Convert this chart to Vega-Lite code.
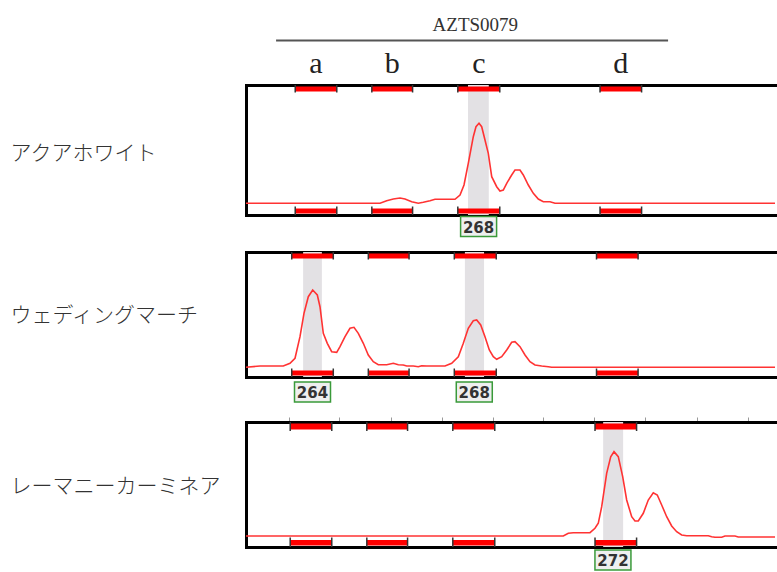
{
  "$schema": "https://vega.github.io/schema/vega-lite/v6.json",
  "background": "white",
  "padding": {"left": 10, "top": 15, "right": 0, "bottom": 0},
  "spacing": 11,
  "config": {
    "view": {"stroke": null},
    "axis": {"domainColor": "#000", "domainWidth": 3, "domainCap": "square", "grid": false, "ticks": false, "labels": false, "title": null}
  },
  "datasets": {
    "bins": [
      {"bin": "a", "lo": 263.49, "hi": 264.51, "mid": 264.0},
      {"bin": "b", "lo": 265.37, "hi": 266.37, "mid": 265.87},
      {"bin": "c", "lo": 267.48, "hi": 268.51, "mid": 268.0},
      {"bin": "d", "lo": 270.97, "hi": 271.99, "mid": 271.48}
    ],
    "calls": [
      {"sample": "アクアホワイト", "size": 268, "lo": 267.73, "hi": 268.24, "mid": 267.99},
      {"sample": "ウェディングマーチ", "size": 264, "lo": 263.77, "hi": 264.23, "mid": 264.0},
      {"sample": "ウェディングマーチ", "size": 268, "lo": 267.74, "hi": 268.21, "mid": 267.97},
      {"sample": "レーマニーカーミネア", "size": 272, "lo": 271.17, "hi": 271.66, "mid": 271.41}
    ],
    "header": [
      {"marker": "AZTS0079", "lo": 263.02, "hi": 272.64, "mid": 267.91}
    ],
    "trace": [
      {"sample": "アクアホワイト", "size": 262.282, "rfu": 117},
      {"sample": "アクアホワイト", "size": 265.571, "rfu": 117},
      {"sample": "アクアホワイト", "size": 265.735, "rfu": 143},
      {"sample": "アクアホワイト", "size": 265.897, "rfu": 160},
      {"sample": "アクアホワイト", "size": 266.061, "rfu": 170},
      {"sample": "アクアホワイト", "size": 266.184, "rfu": 160},
      {"sample": "アクアホワイト", "size": 266.348, "rfu": 133},
      {"sample": "アクアホワイト", "size": 266.510, "rfu": 117},
      {"sample": "アクアホワイト", "size": 266.633, "rfu": 127},
      {"sample": "アクアホワイト", "size": 266.798, "rfu": 143},
      {"sample": "アクアホワイト", "size": 266.920, "rfu": 157},
      {"sample": "アクアホワイト", "size": 267.411, "rfu": 157},
      {"sample": "アクアホワイト", "size": 267.534, "rfu": 200},
      {"sample": "アクアホワイト", "size": 267.632, "rfu": 300},
      {"sample": "アクアホワイト", "size": 267.737, "rfu": 517},
      {"sample": "アクアホワイト", "size": 267.860, "rfu": 783},
      {"sample": "アクアホワイト", "size": 267.926, "rfu": 883},
      {"sample": "アクアホワイト", "size": 268.000, "rfu": 917},
      {"sample": "アクアホワイト", "size": 268.066, "rfu": 883},
      {"sample": "アクアホワイト", "size": 268.147, "rfu": 750},
      {"sample": "アクアホワイト", "size": 268.228, "rfu": 617},
      {"sample": "アクアホワイト", "size": 268.312, "rfu": 383},
      {"sample": "アクアホワイト", "size": 268.434, "rfu": 283},
      {"sample": "アクアホワイト", "size": 268.515, "rfu": 240},
      {"sample": "アクアホワイト", "size": 268.596, "rfu": 250},
      {"sample": "アクアホワイト", "size": 268.680, "rfu": 317},
      {"sample": "アクアホワイト", "size": 268.802, "rfu": 400},
      {"sample": "アクアホワイト", "size": 268.883, "rfu": 450},
      {"sample": "アクアホワイト", "size": 269.006, "rfu": 450},
      {"sample": "アクアホワイト", "size": 269.087, "rfu": 400},
      {"sample": "アクアホワイト", "size": 269.210, "rfu": 300},
      {"sample": "アクアホワイト", "size": 269.333, "rfu": 217},
      {"sample": "アクアホワイト", "size": 269.455, "rfu": 160},
      {"sample": "アクアホワイト", "size": 269.578, "rfu": 133},
      {"sample": "アクアホワイト", "size": 269.742, "rfu": 133},
      {"sample": "アクアホワイト", "size": 269.865, "rfu": 117},
      {"sample": "アクアホワイト", "size": 275.264, "rfu": 117},
      {"sample": "ウェディングマーチ", "size": 262.368, "rfu": 97},
      {"sample": "ウェディングマーチ", "size": 262.712, "rfu": 110},
      {"sample": "ウェディングマーチ", "size": 263.283, "rfu": 110},
      {"sample": "ウェディングマーチ", "size": 263.448, "rfu": 137},
      {"sample": "ウェディングマーチ", "size": 263.571, "rfu": 187},
      {"sample": "ウェディングマーチ", "size": 263.693, "rfu": 403},
      {"sample": "ウェディングマーチ", "size": 263.791, "rfu": 637},
      {"sample": "ウェディングマーチ", "size": 263.897, "rfu": 803},
      {"sample": "ウェディングマーチ", "size": 264.005, "rfu": 870},
      {"sample": "ウェディングマーチ", "size": 264.118, "rfu": 820},
      {"sample": "ウェディングマーチ", "size": 264.184, "rfu": 703},
      {"sample": "ウェディングマーチ", "size": 264.265, "rfu": 437},
      {"sample": "ウェディングマーチ", "size": 264.363, "rfu": 337},
      {"sample": "ウェディングマーチ", "size": 264.471, "rfu": 253},
      {"sample": "ウェディングマーチ", "size": 264.594, "rfu": 247},
      {"sample": "ウェディングマーチ", "size": 264.675, "rfu": 303},
      {"sample": "ウェディングマーチ", "size": 264.798, "rfu": 403},
      {"sample": "ウェディングマーチ", "size": 264.920, "rfu": 487},
      {"sample": "ウェディングマーチ", "size": 265.018, "rfu": 497},
      {"sample": "ウェディングマーチ", "size": 265.124, "rfu": 437},
      {"sample": "ウェディングマーチ", "size": 265.247, "rfu": 337},
      {"sample": "ウェディングマーチ", "size": 265.369, "rfu": 220},
      {"sample": "ウェディングマーチ", "size": 265.492, "rfu": 153},
      {"sample": "ウェディングマーチ", "size": 265.615, "rfu": 123},
      {"sample": "ウェディングマーチ", "size": 265.821, "rfu": 123},
      {"sample": "ウェディングマーチ", "size": 265.983, "rfu": 137},
      {"sample": "ウェディングマーチ", "size": 266.106, "rfu": 123},
      {"sample": "ウェディングマーチ", "size": 266.228, "rfu": 120},
      {"sample": "ウェディングマーチ", "size": 266.312, "rfu": 110},
      {"sample": "ウェディングマーチ", "size": 266.474, "rfu": 110},
      {"sample": "ウェディングマーチ", "size": 266.596, "rfu": 103},
      {"sample": "ウェディングマーチ", "size": 266.680, "rfu": 113},
      {"sample": "ウェディングマーチ", "size": 266.802, "rfu": 110},
      {"sample": "ウェディングマーチ", "size": 267.252, "rfu": 110},
      {"sample": "ウェディングマーチ", "size": 267.416, "rfu": 137},
      {"sample": "ウェディングマーチ", "size": 267.578, "rfu": 203},
      {"sample": "ウェディングマーチ", "size": 267.701, "rfu": 337},
      {"sample": "ウェディングマーチ", "size": 267.823, "rfu": 487},
      {"sample": "ウェディングマーチ", "size": 267.946, "rfu": 563},
      {"sample": "ウェディングマーチ", "size": 268.029, "rfu": 570},
      {"sample": "ウェディングマーチ", "size": 268.128, "rfu": 520},
      {"sample": "ウェディングマーチ", "size": 268.233, "rfu": 403},
      {"sample": "ウェディングマーチ", "size": 268.339, "rfu": 270},
      {"sample": "ウェディングマーチ", "size": 268.437, "rfu": 203},
      {"sample": "ウェディングマーチ", "size": 268.520, "rfu": 177},
      {"sample": "ウェディングマーチ", "size": 268.643, "rfu": 203},
      {"sample": "ウェディングマーチ", "size": 268.766, "rfu": 270},
      {"sample": "ウェディングマーチ", "size": 268.888, "rfu": 347},
      {"sample": "ウェディングマーチ", "size": 268.969, "rfu": 353},
      {"sample": "ウェディングマーチ", "size": 269.092, "rfu": 303},
      {"sample": "ウェディングマーチ", "size": 269.215, "rfu": 220},
      {"sample": "ウェディングマーチ", "size": 269.337, "rfu": 153},
      {"sample": "ウェディングマーチ", "size": 269.460, "rfu": 120},
      {"sample": "ウェディングマーチ", "size": 269.624, "rfu": 110},
      {"sample": "ウェディングマーチ", "size": 269.787, "rfu": 103},
      {"sample": "ウェディングマーチ", "size": 269.870, "rfu": 97},
      {"sample": "ウェディングマーチ", "size": 275.350, "rfu": 97},
      {"sample": "レーマニーカーミネア", "size": 262.405, "rfu": 110},
      {"sample": "レーマニーカーミネア", "size": 270.192, "rfu": 110},
      {"sample": "レーマニーカーミネア", "size": 270.314, "rfu": 137},
      {"sample": "レーマニーカーミネア", "size": 270.437, "rfu": 143},
      {"sample": "レーマニーカーミネア", "size": 270.847, "rfu": 143},
      {"sample": "レーマニーカーミネア", "size": 270.969, "rfu": 187},
      {"sample": "レーマニーカーミネア", "size": 271.050, "rfu": 237},
      {"sample": "レーマニーカーミネア", "size": 271.134, "rfu": 403},
      {"sample": "レーマニーカーミネア", "size": 271.256, "rfu": 737},
      {"sample": "レーマニーカーミネア", "size": 271.355, "rfu": 903},
      {"sample": "レーマニーカーミネア", "size": 271.436, "rfu": 953},
      {"sample": "レーマニーカーミネア", "size": 271.541, "rfu": 903},
      {"sample": "レーマニーカーミネア", "size": 271.649, "rfu": 703},
      {"sample": "レーマニーカーミネア", "size": 271.747, "rfu": 470},
      {"sample": "レーマニーカーミネア", "size": 271.870, "rfu": 303},
      {"sample": "レーマニーカーミネア", "size": 271.951, "rfu": 260},
      {"sample": "レーマニーカーミネア", "size": 272.032, "rfu": 260},
      {"sample": "レーマニーカーミネア", "size": 272.155, "rfu": 337},
      {"sample": "レーマニーカーミネア", "size": 272.277, "rfu": 470},
      {"sample": "レーマニーカーミネア", "size": 272.400, "rfu": 543},
      {"sample": "レーマニーカーミネア", "size": 272.498, "rfu": 520},
      {"sample": "レーマニーカーミネア", "size": 272.606, "rfu": 420},
      {"sample": "レーマニーカーミネア", "size": 272.729, "rfu": 303},
      {"sample": "レーマニーカーミネア", "size": 272.851, "rfu": 210},
      {"sample": "レーマニーカーミネア", "size": 272.974, "rfu": 153},
      {"sample": "レーマニーカーミネア", "size": 273.097, "rfu": 120},
      {"sample": "レーマニーカーミネア", "size": 273.220, "rfu": 113},
      {"sample": "レーマニーカーミネア", "size": 273.750, "rfu": 113},
      {"sample": "レーマニーカーミネア", "size": 273.833, "rfu": 103},
      {"sample": "レーマニーカーミネア", "size": 273.914, "rfu": 97},
      {"sample": "レーマニーカーミネア", "size": 274.078, "rfu": 97},
      {"sample": "レーマニーカーミネア", "size": 274.160, "rfu": 110},
      {"sample": "レーマニーカーミネア", "size": 274.405, "rfu": 110},
      {"sample": "レーマニーカーミネア", "size": 274.486, "rfu": 100},
      {"sample": "レーマニーカーミネア", "size": 274.609, "rfu": 100},
      {"sample": "レーマニーカーミネア", "size": 275.387, "rfu": 100}
    ]
  },
  "vconcat": [
    {
      "width": 529, "height": 130,
      "layer": [
        {"data": {"name": "calls"}, "transform": [{"filter": {"field": "sample", "equal": "アクアホワイト"}}],
         "mark": {"type": "rect", "color": "#e3e1e4"},
         "encoding": {
           "x": {"field": "lo", "type": "quantitative", "scale": {"domain": [262.282, 275.264], "nice": false, "zero": false}, "axis": null},
           "x2": {"field": "hi"},
           "y": {"datum": 0, "type": "quantitative", "scale": {"domain": [0, 1300], "nice": false, "zero": false}, "axis": {"orient": "left", "title": "アクアホワイト", "titleAngle": 0, "titleAlign": "left", "titleBaseline": "middle", "titleX": -236, "titleY": 68, "titleFont": "Noto Sans CJK JP", "titleFontSize": 21, "titleFontWeight": 300, "titleColor": "#333"}},
           "y2": {"datum": 1300}}},
        {"data": {"name": "bins"},
         "mark": {"type": "rect", "color": "#ff0000"},
         "encoding": {
           "x": {"field": "lo", "type": "quantitative", "scale": {"domain": [262.282, 275.264], "nice": false, "zero": false}, "axis": {"orient": "top", "title": null}},
           "x2": {"field": "hi"},
           "y": {"datum": 1285, "type": "quantitative"},
           "y2": {"datum": 1235}}},
        {"data": {"name": "bins"},
         "mark": {"type": "rect", "color": "#ff0000"},
         "encoding": {
           "x": {"field": "lo", "type": "quantitative", "axis": null},
           "x2": {"field": "hi"},
           "y": {"datum": 15, "type": "quantitative"},
           "y2": {"datum": 65}}},
        {"data": {"name": "bins"}, "transform": [{"fold": ["lo", "hi"], "as": ["edge", "pos"]}],
         "mark": {"type": "rule", "color": "#333", "strokeWidth": 1.5},
         "encoding": {
           "x": {"field": "pos", "type": "quantitative", "axis": null},
           "y": {"datum": 1300, "type": "quantitative"},
           "y2": {"datum": 1225}}},
        {"data": {"name": "bins"}, "transform": [{"fold": ["lo", "hi"], "as": ["edge", "pos"]}],
         "mark": {"type": "rule", "color": "#333", "strokeWidth": 1.5},
         "encoding": {
           "x": {"field": "pos", "type": "quantitative", "axis": null},
           "y": {"datum": 0, "type": "quantitative"},
           "y2": {"datum": 85}}},
        {"data": {"name": "trace"}, "transform": [{"filter": {"field": "sample", "equal": "アクアホワイト"}}],
         "mark": {"type": "line", "color": "#ff3333", "strokeWidth": 1.6},
         "encoding": {
           "x": {"field": "size", "type": "quantitative", "axis": {"orient": "bottom", "title": null}},
           "y": {"field": "rfu", "type": "quantitative", "axis": {"orient": "left", "title": "アクアホワイト", "titleAngle": 0, "titleAlign": "left", "titleBaseline": "middle", "titleX": -236, "titleY": 68, "titleFont": "Noto Sans CJK JP", "titleFontSize": 21, "titleFontWeight": 300, "titleColor": "#333"}}}},
        {"data": {"name": "calls"}, "transform": [{"filter": {"field": "sample", "equal": "アクアホワイト"}}],
         "mark": {"type": "point", "shape": "M-1,-0.55H1V0.55H-1Z", "filled": true, "fill": "#efefef", "stroke": "#3a9a3a", "strokeWidth": 1.5, "size": 1296, "opacity": 1},
         "encoding": {
           "x": {"field": "mid", "type": "quantitative", "axis": null},
           "y": {"datum": -115, "type": "quantitative"}}},
        {"data": {"name": "calls"}, "transform": [{"filter": {"field": "sample", "equal": "アクアホワイト"}}],
         "mark": {"type": "text", "font": "DejaVu Sans", "fontWeight": "bold", "fontSize": 15, "color": "#333", "baseline": "middle", "align": "center", "dy": 1},
         "encoding": {
           "x": {"field": "mid", "type": "quantitative", "axis": null},
           "y": {"datum": -115, "type": "quantitative"},
           "text": {"field": "size"}}},
        {"data": {"name": "header"},
         "mark": {"type": "rule", "color": "#555", "strokeWidth": 1.8},
         "encoding": {
           "x": {"field": "lo", "type": "quantitative", "axis": null},
           "x2": {"field": "hi"},
           "y": {"datum": 1745, "type": "quantitative"}}},
        {"data": {"name": "header"},
         "mark": {"type": "text", "font": "Liberation Serif", "fontSize": 19, "color": "#333", "baseline": "middle", "align": "center"},
         "encoding": {
           "x": {"field": "mid", "type": "quantitative", "axis": null},
           "y": {"datum": 1905, "type": "quantitative"},
           "text": {"field": "marker"}}},
        {"data": {"name": "bins"},
         "mark": {"type": "text", "font": "Liberation Serif", "fontSize": 30, "color": "#222", "baseline": "alphabetic", "align": "center"},
         "encoding": {
           "x": {"field": "mid", "type": "quantitative", "axis": null},
           "y": {"datum": 1420, "type": "quantitative"},
           "text": {"field": "bin"}}}
      ]
    },
    {
      "width": 529, "height": 125,
      "layer": [
        {"data": {"name": "calls"}, "transform": [{"filter": {"field": "sample", "equal": "ウェディングマーチ"}}],
         "mark": {"type": "rect", "color": "#e3e1e4"},
         "encoding": {
           "x": {"field": "lo", "type": "quantitative", "scale": {"domain": [262.368, 275.35], "nice": false, "zero": false}, "axis": null},
           "x2": {"field": "hi"},
           "y": {"datum": 0, "type": "quantitative", "scale": {"domain": [0, 1250], "nice": false, "zero": false}, "axis": {"orient": "left", "title": "ウェディングマーチ", "titleAngle": 0, "titleAlign": "left", "titleBaseline": "middle", "titleX": -236, "titleY": 63, "titleFont": "Noto Sans CJK JP", "titleFontSize": 21, "titleFontWeight": 300, "titleColor": "#333"}},
           "y2": {"datum": 1250}}},
        {"data": {"name": "bins"},
         "mark": {"type": "rect", "color": "#ff0000"},
         "encoding": {
           "x": {"field": "lo", "type": "quantitative", "scale": {"domain": [262.368, 275.35], "nice": false, "zero": false}, "axis": {"orient": "top", "title": null}},
           "x2": {"field": "hi"},
           "y": {"datum": 1235, "type": "quantitative"},
           "y2": {"datum": 1185}}},
        {"data": {"name": "bins"},
         "mark": {"type": "rect", "color": "#ff0000"},
         "encoding": {
           "x": {"field": "lo", "type": "quantitative", "axis": null},
           "x2": {"field": "hi"},
           "y": {"datum": 15, "type": "quantitative"},
           "y2": {"datum": 65}}},
        {"data": {"name": "bins"}, "transform": [{"fold": ["lo", "hi"], "as": ["edge", "pos"]}],
         "mark": {"type": "rule", "color": "#333", "strokeWidth": 1.5},
         "encoding": {
           "x": {"field": "pos", "type": "quantitative", "axis": null},
           "y": {"datum": 1250, "type": "quantitative"},
           "y2": {"datum": 1175}}},
        {"data": {"name": "bins"}, "transform": [{"fold": ["lo", "hi"], "as": ["edge", "pos"]}],
         "mark": {"type": "rule", "color": "#333", "strokeWidth": 1.5},
         "encoding": {
           "x": {"field": "pos", "type": "quantitative", "axis": null},
           "y": {"datum": 0, "type": "quantitative"},
           "y2": {"datum": 85}}},
        {"data": {"name": "trace"}, "transform": [{"filter": {"field": "sample", "equal": "ウェディングマーチ"}}],
         "mark": {"type": "line", "color": "#ff3333", "strokeWidth": 1.6},
         "encoding": {
           "x": {"field": "size", "type": "quantitative", "axis": {"orient": "bottom", "title": null}},
           "y": {"field": "rfu", "type": "quantitative", "axis": {"orient": "left", "title": "ウェディングマーチ", "titleAngle": 0, "titleAlign": "left", "titleBaseline": "middle", "titleX": -236, "titleY": 63, "titleFont": "Noto Sans CJK JP", "titleFontSize": 21, "titleFontWeight": 300, "titleColor": "#333"}}}},
        {"data": {"name": "calls"}, "transform": [{"filter": {"field": "sample", "equal": "ウェディングマーチ"}}],
         "mark": {"type": "point", "shape": "M-1,-0.55H1V0.55H-1Z", "filled": true, "fill": "#efefef", "stroke": "#3a9a3a", "strokeWidth": 1.5, "size": 1296, "opacity": 1},
         "encoding": {
           "x": {"field": "mid", "type": "quantitative", "axis": null},
           "y": {"datum": -150, "type": "quantitative"}}},
        {"data": {"name": "calls"}, "transform": [{"filter": {"field": "sample", "equal": "ウェディングマーチ"}}],
         "mark": {"type": "text", "font": "DejaVu Sans", "fontWeight": "bold", "fontSize": 15, "color": "#333", "baseline": "middle", "align": "center", "dy": 1},
         "encoding": {
           "x": {"field": "mid", "type": "quantitative", "axis": null},
           "y": {"datum": -150, "type": "quantitative"},
           "text": {"field": "size"}}}
      ]
    },
    {
      "width": 529, "height": 125,
      "layer": [
        {"data": {"name": "calls"}, "transform": [{"filter": {"field": "sample", "equal": "レーマニーカーミネア"}}],
         "mark": {"type": "rect", "color": "#e3e1e4"},
         "encoding": {
           "x": {"field": "lo", "type": "quantitative", "scale": {"domain": [262.405, 275.387], "nice": false, "zero": false}, "axis": null},
           "x2": {"field": "hi"},
           "y": {"datum": 0, "type": "quantitative", "scale": {"domain": [0, 1250], "nice": false, "zero": false}, "axis": {"orient": "left", "title": "レーマニーカーミネア", "titleAngle": 0, "titleAlign": "left", "titleBaseline": "middle", "titleX": -236, "titleY": 64, "titleFont": "Noto Sans CJK JP", "titleFontSize": 21, "titleFontWeight": 300, "titleColor": "#333"}},
           "y2": {"datum": 1250}}},
        {"data": {"name": "bins"},
         "mark": {"type": "rect", "color": "#ff0000"},
         "encoding": {
           "x": {"field": "lo", "type": "quantitative", "scale": {"domain": [262.405, 275.387], "nice": false, "zero": false}, "axis": {"orient": "top", "title": null, "ticks": true, "tickSize": 5, "tickWidth": 1, "tickColor": "#999", "values": [263.46, 264.687, 265.963, 267.215, 268.466, 269.693, 270.945, 272.196, 273.472, 274.724]}},
           "x2": {"field": "hi"},
           "y": {"datum": 1235, "type": "quantitative"},
           "y2": {"datum": 1175}}},
        {"data": {"name": "bins"},
         "mark": {"type": "rect", "color": "#ff0000"},
         "encoding": {
           "x": {"field": "lo", "type": "quantitative", "axis": null},
           "x2": {"field": "hi"},
           "y": {"datum": 15, "type": "quantitative"},
           "y2": {"datum": 70}}},
        {"data": {"name": "bins"}, "transform": [{"fold": ["lo", "hi"], "as": ["edge", "pos"]}],
         "mark": {"type": "rule", "color": "#333", "strokeWidth": 1.5},
         "encoding": {
           "x": {"field": "pos", "type": "quantitative", "axis": null},
           "y": {"datum": 1250, "type": "quantitative"},
           "y2": {"datum": 1160}}},
        {"data": {"name": "bins"}, "transform": [{"fold": ["lo", "hi"], "as": ["edge", "pos"]}],
         "mark": {"type": "rule", "color": "#333", "strokeWidth": 1.5},
         "encoding": {
           "x": {"field": "pos", "type": "quantitative", "axis": null},
           "y": {"datum": 0, "type": "quantitative"},
           "y2": {"datum": 95}}},
        {"data": {"name": "trace"}, "transform": [{"filter": {"field": "sample", "equal": "レーマニーカーミネア"}}],
         "mark": {"type": "line", "color": "#ff3333", "strokeWidth": 1.6},
         "encoding": {
           "x": {"field": "size", "type": "quantitative", "axis": {"orient": "bottom", "title": null}},
           "y": {"field": "rfu", "type": "quantitative", "axis": {"orient": "left", "title": "レーマニーカーミネア", "titleAngle": 0, "titleAlign": "left", "titleBaseline": "middle", "titleX": -236, "titleY": 64, "titleFont": "Noto Sans CJK JP", "titleFontSize": 21, "titleFontWeight": 300, "titleColor": "#333"}}}},
        {"data": {"name": "calls"}, "transform": [{"filter": {"field": "sample", "equal": "レーマニーカーミネア"}}],
         "mark": {"type": "point", "shape": "M-1,-0.55H1V0.55H-1Z", "filled": true, "fill": "#efefef", "stroke": "#3a9a3a", "strokeWidth": 1.5, "size": 1296, "opacity": 1},
         "encoding": {
           "x": {"field": "mid", "type": "quantitative", "axis": null},
           "y": {"datum": -130, "type": "quantitative"}}},
        {"data": {"name": "calls"}, "transform": [{"filter": {"field": "sample", "equal": "レーマニーカーミネア"}}],
         "mark": {"type": "text", "font": "DejaVu Sans", "fontWeight": "bold", "fontSize": 15, "color": "#333", "baseline": "middle", "align": "center", "dy": 1},
         "encoding": {
           "x": {"field": "mid", "type": "quantitative", "axis": null},
           "y": {"datum": -130, "type": "quantitative"},
           "text": {"field": "size"}}}
      ]
    }
  ]
}
